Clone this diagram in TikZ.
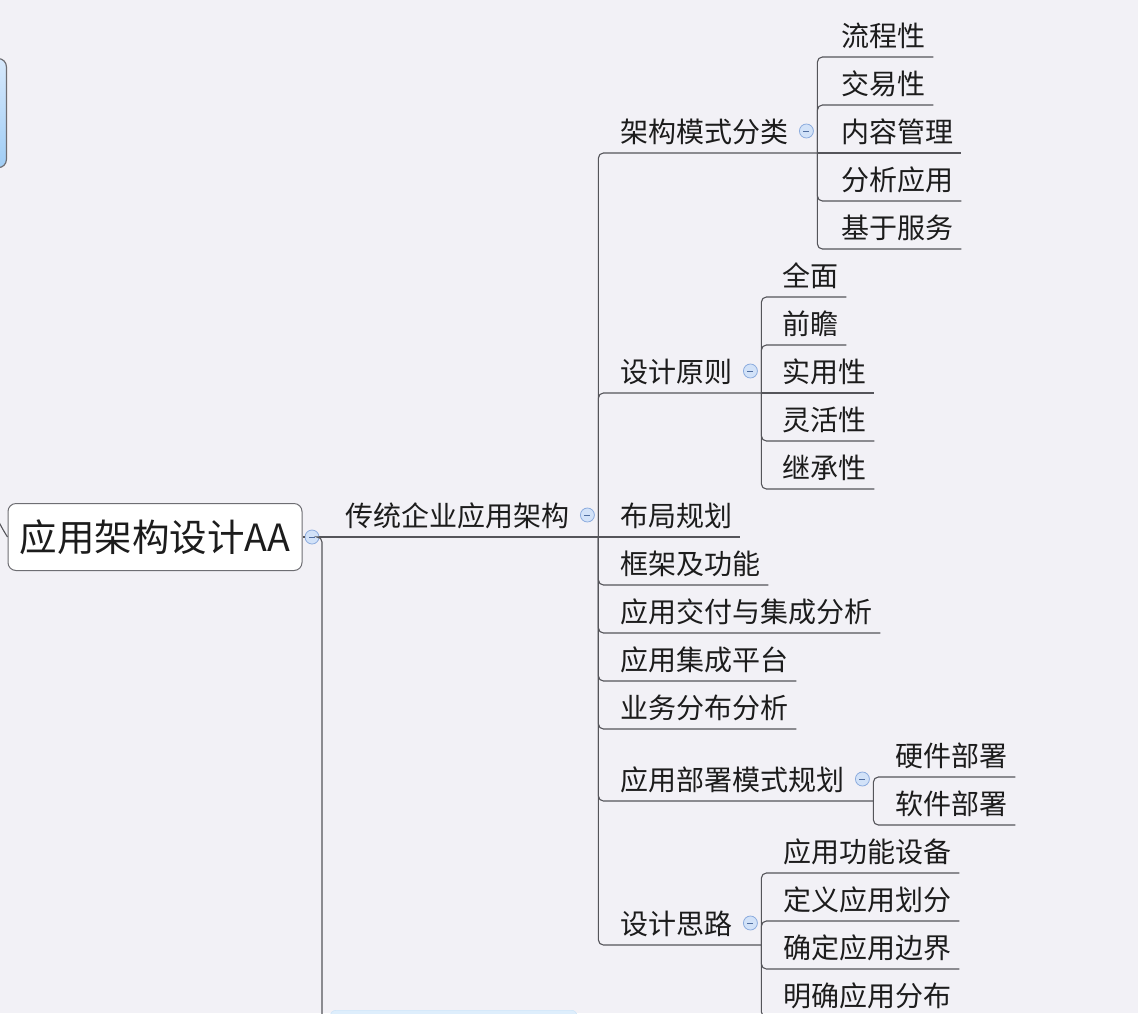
\documentclass[tikz,border=0pt]{standalone}
\usepackage{fontspec}
\setmainfont{Noto Sans CJK SC}
\usetikzlibrary{calc}
\definecolor{bg}{RGB}{242,241,246}
\definecolor{lncol}{RGB}{85,85,90}
\definecolor{txcol}{RGB}{28,28,28}
\definecolor{foldfill}{RGB}{210,226,248}
\definecolor{folddraw}{RGB}{140,172,222}
\definecolor{foldmark}{RGB}{80,110,160}
\definecolor{boxline}{RGB}{110,110,115}
\definecolor{ctop}{RGB}{215,233,252}
\definecolor{cbot}{RGB}{160,205,245}
\definecolor{nbdraw}{RGB}{200,226,248}
\definecolor{nbfill}{RGB}{222,238,252}
\begin{document}
\begin{tikzpicture}[x=1pt,y=-1pt,
  conn/.style={draw=lncol, line width=1.1pt, rounded corners=5pt},
  topic/.style={font=\fontsize{28pt}{30pt}\selectfont, text=txcol, inner sep=0pt, anchor=base west},
  fold/.style={circle, draw=folddraw, fill=foldfill, minimum size=14pt, inner sep=0pt, line width=0.8pt,
    path picture={\draw[foldmark, line width=0.8pt] ([xshift=-3pt]path picture bounding box.center) -- ([xshift=3pt]path picture bounding box.center);}},
]
\useasboundingbox (0,0) rectangle (1138,1013);
\fill[bg] (0,0) rectangle (1138,1013);
\clip (0,0) rectangle (1138,1013);

% central topic (cut off at the left) and next main topic (cut off at the bottom)
\node[draw=boxline, line width=1.2pt, rounded corners=8pt, top color=ctop, bottom color=cbot,
  minimum width=200pt, minimum height=109pt, anchor=north east] (center) at (7,58) {};
\node[draw=nbdraw, fill=nbfill, rounded corners=6pt,
  minimum width=247pt, minimum height=60pt, anchor=north west] (nb) at (330,1010) {};

% root topic
\node[draw=boxline, fill=white, rounded corners=8pt, line width=1pt, minimum width=294pt, minimum height=67pt,
  inner sep=0pt, font=\fontsize{37.5pt}{40pt}\selectfont, text=txcol] (root) at (155,537) {应用架构设计AA};
\draw[conn] (center.south) .. controls (-60,400) and (-12,507) .. (root.west);
\node[fold] (f0) at (312,537) {};
\draw[conn] (root.east) -- (f0.west);
\draw[conn] (f0.east) -| ($(nb.west)+(-8,0)$) -- (nb.west);

% level 1
\node[topic] (trad) at (345,526) {传统企业应用架构};
\coordinate (trad-R) at ($(trad.base east)+(29,11)$);
\node[fold] (trad-F) at ($(trad.base east)+(18,-11)$) {};
\draw[conn] (f0.east) -- (trad-R);

% level 2
\node[topic] (jg) at (620,142) {架构模式分类};
\node[topic] (yz) at (620,382) {设计原则};
\node[topic] (bs) at (620,790) {应用部署模式规划};
\node[topic] (sl) at (620,934) {设计思路};
\foreach \n/\t/\cy in {bj/布局规划/515, kj/框架及功能/563, jf/应用交付与集成分析/611, jc/应用集成平台/659, yw/业务分布分析/707}{
  \node[topic] (\n) at (620,\cy+11) {\t};
  \coordinate (\n-R) at ($(\n.base east)+(8,11)$);
}
\foreach \n in {jg,yz,bs,sl}{
  \coordinate (\n-R) at ($(\n.base east)+(29,11)$);
  \node[fold] (\n-F) at ($(\n.base east)+(18,-11)$) {};
}
\foreach \n in {jg,yz,kj,jf,jc,yw,bs,sl} \draw[conn] (trad-R) |- (\n-R);
\draw[conn] (trad-R) -- (bj-R);

% level 3 under 架构模式分类
\foreach \n/\t/\cy in {a1/流程性/35, a2/交易性/83, a3/内容管理/131, a4/分析应用/179, a5/基于服务/227}{
  \node[topic] (\n) at (841,\cy+11) {\t};
  \coordinate (\n-R) at ($(\n.base east)+(8,11)$);
}
\foreach \n in {a1,a2,a4,a5} \draw[conn] (jg-R) |- (\n-R);
\draw[conn] (jg-R) -- (a3-R);

% level 3 under 设计原则
\foreach \n/\t/\cy in {b1/全面/275, b2/前瞻/323, b3/实用性/371, b4/灵活性/419, b5/继承性/467}{
  \node[topic] (\n) at (782,\cy+11) {\t};
  \coordinate (\n-R) at ($(\n.base east)+(8,11)$);
}
\foreach \n in {b1,b2,b4,b5} \draw[conn] (yz-R) |- (\n-R);
\draw[conn] (yz-R) -- (b3-R);

% level 3 under 应用部署模式规划
\foreach \n/\t/\cy in {c1/硬件部署/755, c2/软件部署/803}{
  \node[topic] (\n) at (895,\cy+11) {\t};
  \coordinate (\n-R) at ($(\n.base east)+(8,11)$);
  \draw[conn] (bs-R) |- (\n-R);
}

% level 3 under 设计思路
\foreach \n/\t/\cy in {d1/应用功能设备/851, d2/定义应用划分/899, d3/确定应用边界/947, d4/明确应用分布/995}{
  \node[topic] (\n) at (783,\cy+11) {\t};
  \coordinate (\n-R) at ($(\n.base east)+(8,11)$);
  \draw[conn] (sl-R) |- (\n-R);
}
\end{tikzpicture}
\end{document}
